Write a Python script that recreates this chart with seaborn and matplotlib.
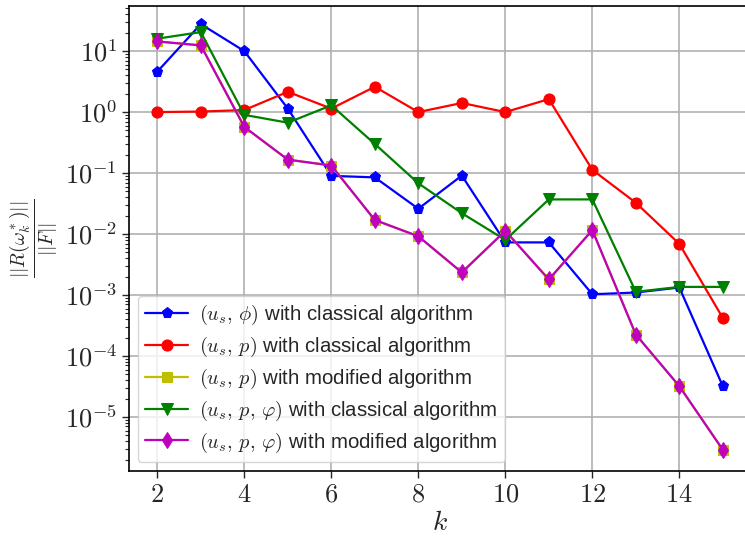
import matplotlib
matplotlib.use("Agg")
import matplotlib.pyplot as plt
import matplotlib.ticker as mticker
import numpy as np
import pandas as pd
import seaborn as sns

# iteration index
k = [2, 3, 4, 5, 6, 7, 8, 9, 10, 11, 12, 13, 14, 15]

# relative residual ||R(w_k*)|| / ||F|| for each formulation
us_phi_classical = [4.6, 27.7, 10.0, 1.14, 0.09, 0.085, 0.026, 0.091,
                    0.0073, 0.0073, 0.00103, 0.0011, 0.00133, 3.2e-5]
us_p_classical = [1.0, 1.02, 1.08, 2.15, 1.14, 2.6, 1.0, 1.41,
                  1.0, 1.63, 0.113, 0.0326, 0.0069, 0.00042]
us_p_modified = [14.4, 12.4, 0.57, 0.166, 0.133, 0.017, 0.0092, 0.00235,
                 0.0113, 0.0018, 0.0116, 2.25e-4, 3.2e-5, 2.9e-6]
us_p_vphi_classical = [16.0, 20.5, 0.9, 0.67, 1.29, 0.30, 0.068, 0.022,
                       0.0080, 0.037, 0.037, 0.00113, 0.00136, 0.00136]
us_p_vphi_modified = [14.4, 12.4, 0.57, 0.166, 0.133, 0.017, 0.0092, 0.00235,
                      0.0113, 0.0018, 0.0116, 2.25e-4, 3.2e-5, 2.9e-6]

labels = [
    r"$(u_s,\,\phi)$ with classical algorithm",
    r"$(u_s,\,p)$ with classical algorithm",
    r"$(u_s,\,p)$ with modified algorithm",
    r"$(u_s,\,p,\,\varphi)$ with classical algorithm",
    r"$(u_s,\,p,\,\varphi)$ with modified algorithm",
]
series = [us_phi_classical, us_p_classical, us_p_modified,
          us_p_vphi_classical, us_p_vphi_modified]
colors = ["b", "r", "y", "g", "m"]
markers = ["p", "o", "s", "v", "d"]
msizes = [8, 8, 7.5, 8, 8]

sns.set_style("ticks", {"axes.grid": True, "grid.color": "#b0b0b0",
                        "axes.edgecolor": "black", "xtick.direction": "out",
                        "ytick.direction": "out"})
plt.rcParams["font.family"] = ["Liberation Sans", "DejaVu Sans"]
plt.rcParams["mathtext.fontset"] = "cm"

fig = plt.figure(figsize=(7.45, 5.37), dpi=100)
ax = fig.add_axes([0.1732, 0.1229, 0.835, 0.866])

for vals, lab, col, mk, ms in zip(series, labels, colors, markers, msizes):
    df = pd.DataFrame({"k": k, "res": vals})
    sns.lineplot(data=df, x="k", y="res", ax=ax, color=col, marker=mk,
                 markersize=ms, linewidth=1.6, markeredgecolor=col,
                 label=lab, errorbar=None)

ax.set_yscale("log")
ax.set_xlim(1.35, 15.65)
ax.set_ylim(10 ** -5.885, 10 ** 1.74)
ax.xaxis.set_major_locator(mticker.MultipleLocator(2))
ax.xaxis.set_major_formatter(mticker.FuncFormatter(lambda v, p: f"${v:g}$"))
ax.yaxis.set_major_locator(mticker.LogLocator(base=10, numticks=20))
ax.yaxis.set_major_formatter(
    mticker.FuncFormatter(lambda v, p: f"$10^{{{int(round(np.log10(v)))}}}$"))
ax.yaxis.set_minor_locator(mticker.LogLocator(base=10, subs=np.arange(2, 10), numticks=20))
ax.yaxis.set_minor_formatter(mticker.NullFormatter())
ax.tick_params(axis="both", which="major", labelsize=19, length=5, width=1)
ax.tick_params(axis="y", which="minor", length=3, width=0.8)
ax.grid(True, which="major", color="#b0b0b0", linewidth=1.2)
for sp in ax.spines.values():
    sp.set_color("black")
    sp.set_linewidth(1.2)

ax.set_xlabel(r"$k$", fontsize=20, labelpad=2)
ax.set_ylabel(r"$\frac{||R(\omega_k^*)||}{||F||}$", fontsize=20, labelpad=4)

ax.legend(loc="lower left", fontsize=14.7, framealpha=0.8, handlelength=2.1,
          borderpad=0.35, labelspacing=0.38, handletextpad=0.55,
          borderaxespad=0.45)

fig.savefig("out.png", dpi=100)
